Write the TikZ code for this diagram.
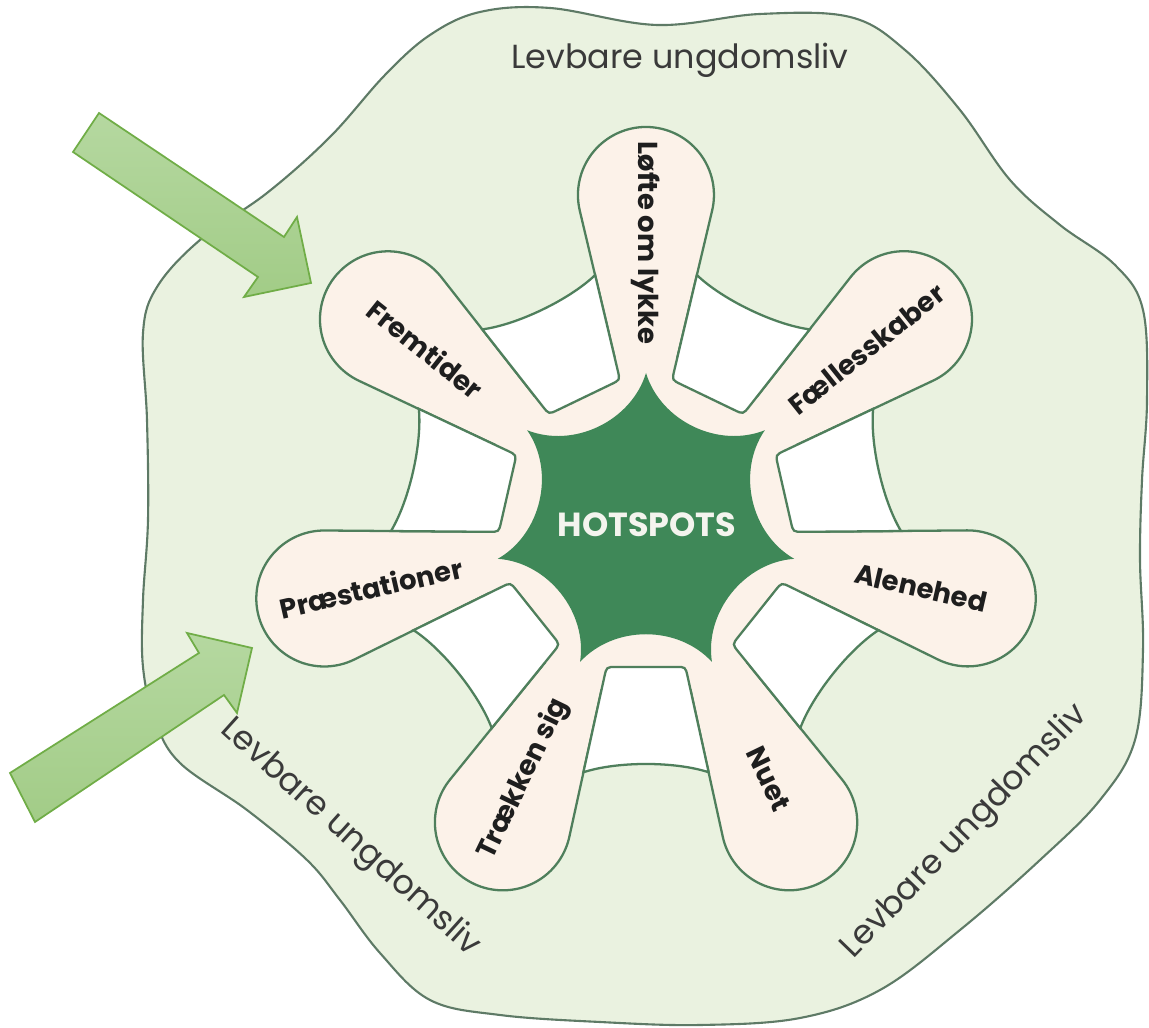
\documentclass[tikz,border=0pt]{standalone}
\usepackage{fontspec}
\setmainfont{Poppins}
\usepackage{tikz}
\usetikzlibrary{calc}

\definecolor{blobgreen}{HTML}{EAF2E0}
\definecolor{blobline}{HTML}{5E7A66}
\definecolor{petalfill}{HTML}{FCF2E9}
\definecolor{petalline}{HTML}{4F7F5C}
\definecolor{stargreen}{HTML}{3F8858}
\definecolor{hottext}{HTML}{F4F4EE}
\definecolor{lbltext}{HTML}{1E1E1E}
\definecolor{levtext}{HTML}{3A3A3A}
\definecolor{arrowtop}{HTML}{B5D8A0}
\definecolor{arrowbot}{HTML}{A2CC87}
\definecolor{arrowline}{HTML}{70AD47}

\tikzset{
  ramme/.style={fill=blobgreen, draw=blobline, line width=0.6pt},
  petal/.style={fill=petalfill, draw=petalline, line width=0.65pt},
  patch/.style={fill=white, draw=petalline, line width=0.65pt},
  hotspot/.style={fill=stargreen},
  lbl/.style={text=lbltext, font=\fontsize{7.8}{9}\selectfont\bfseries},
  levtekst/.style={text=levtext, font=\fontsize{9.5}{11}\selectfont},
  pil/.style={draw=arrowline, line width=0.5pt, top color=arrowtop, bottom color=arrowbot},
}

\begin{document}
\begin{tikzpicture}[x=0.1mm, y=0.1mm]
\useasboundingbox (-646,-503) rectangle (503,525);

% outer blob
\draw[ramme] plot[smooth cycle, tension=0.6] coordinates {
  (-166,513) (-96,517) (11,500) (114,511) (204,508) (259,475) (314,415)
  (364,345) (414,300) (469,260) (497,215) (501,125) (496,45) (494,-35)
  (497,-125) (489,-215) (454,-275) (394,-335) (314,-405) (234,-465)
  (154,-493) (54,-500) (-46,-497) (-146,-490) (-216,-475) (-266,-428)
  (-306,-375) (-339,-335) (-399,-285) (-466,-238) (-491,-195) (-503,-142)
  (-503,-75) (-498,5) (-499,105) (-503,192) (-489,238) (-446,285)
  (-379,332) (-316,388) (-261,450) (-216,490)};

% petals
\foreach \a in {90,38.57,-12.86,-64.29,-115.71,-167.14,141.43} {
  \begin{scope}[rotate=\a]
    \draw[petal] (120,-20.1) -- (314.3,-66.1) arc[start angle=-103.35, end angle=103.35, radius=68] -- (120,20.1) -- cycle;
  \end{scope}
}
\fill[petalfill] (0,0) circle[radius=170];

% white gaps between the petals
\foreach \a in {90,38.57,-12.86,-64.29,-115.71,-167.14,141.43} {
  \coordinate (pA) at ({\a+10.17}:147.3);
  \coordinate (pB) at ({\a+11.5}:255.1);
  \coordinate (pC) at ({\a+39.93}:255.1);
  \coordinate (pD) at ({\a+41.26}:147.3);
  \draw[patch] (pB) .. controls ({\a+18.7}:238) and ({\a+32.7}:238) .. (pC)
    -- ($(pD)!1mm!(pC)$) .. controls (pD) .. ($(pD)!1mm!(pA)$)
    -- ($(pA)!1mm!(pD)$) .. controls (pA) .. ($(pA)!1mm!(pB)$) -- cycle;
}

% star
\fill[hotspot] (90:152) \foreach \k in {1,...,7} {
  .. controls ({133.43-51.4286*\k}:105) and ({98-51.4286*\k}:105) .. ({90-51.4286*\k}:152) } -- cycle;
\node[text=hottext, font=\fontsize{9.5}{11}\selectfont\bfseries] (hot) at (1,0) {HOTSPOTS};

% petal labels
\foreach \a/\txt/\r [count=\k] in {90/Løfte om lykke/-90, 38.57/Fællesskaber/38.57,
    -12.86/Alenehed/-12.86, -64.29/Nuet/-64.29, -115.71/Trækken sig/64.29,
    -167.14/Præstationer/12.86, 141.43/Fremtider/-38.57} {
  \node[lbl, rotate=\r] (lbl\k) at (\a:282) {\txt};
}

% outer texts
\node[levtekst] (levtop) at (34,465) {Levbare ungdomsliv};
\node[levtekst, rotate=-42] (levleft) at (-296,-313) {Levbare ungdomsliv};
\node[levtekst, rotate=46] (levright) at (319,-307) {Levbare ungdomsliv};

% arrows
\coordinate (p1a) at (-547,412);
\coordinate (p1b) at (-362,288);
\coordinate (p1c) at (-349,308);
\coordinate (p1d) at (-335,242);
\coordinate (p1e) at (-402,228);
\coordinate (p1f) at (-388,248);
\coordinate (p1g) at (-573,373);
\draw[pil] (p1a) -- (p1b) -- (p1c) -- (p1d) -- (p1e) -- (p1f) -- (p1g) -- cycle;

\coordinate (p2a) at (-636,-248);
\coordinate (p2b) at (-447,-128);
\coordinate (p2c) at (-459,-108);
\coordinate (p2d) at (-394,-123);
\coordinate (p2e) at (-409,-188);
\coordinate (p2f) at (-422,-170);
\coordinate (p2g) at (-611,-297);
\draw[pil] (p2a) -- (p2b) -- (p2c) -- (p2d) -- (p2e) -- (p2f) -- (p2g) -- cycle;
\end{tikzpicture}
\end{document}
